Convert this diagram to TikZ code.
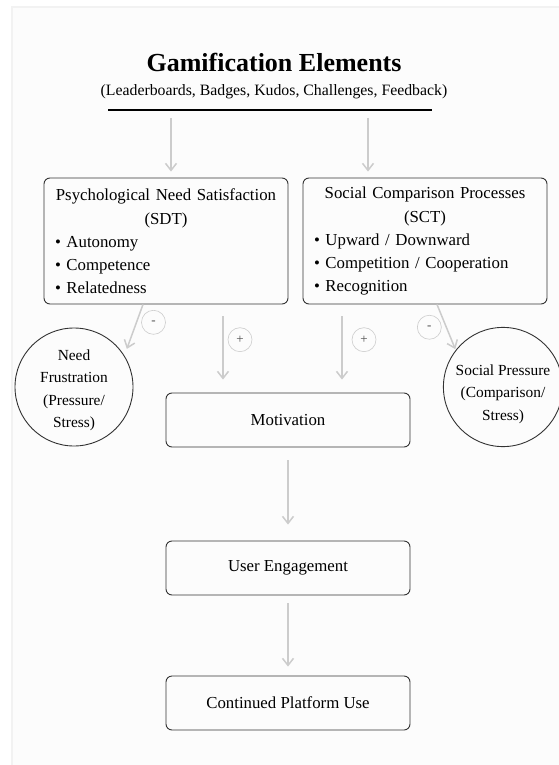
\documentclass[tikz,border=0pt]{standalone}
\usepackage{fontspec}
\setmainfont{Liberation Serif}
\usetikzlibrary{arrows.meta,positioning}

\tikzset{
  box/.style={draw=black!80, rounded corners=6pt, line width=0.9pt, minimum width=244pt, minimum height=54pt, font=\fontsize{16.8}{23}\selectfont},
  theory/.style={box, minimum height=126pt, text width=222pt, inner xsep=11pt, align=left},
  effect/.style={draw=black!80, circle, line width=0.9pt, minimum size=118pt, inner sep=0pt, align=center, font=\fontsize{15.4}{22.5}\selectfont},
  sign/.style={draw=gray!40, circle, line width=0.6pt, minimum size=24pt, inner sep=0pt, outer sep=5pt, font=\fontsize{13}{13}\selectfont, text=black!70},
  flow/.style={color=gray!40, line width=1.5pt, -{Straight Barb[length=7pt,width=11pt]}},
}

\begin{document}
\begin{tikzpicture}[x=1pt,y=-1pt]
	\useasboundingbox (0,0) rectangle (559,765);
	\draw[draw=gray!10, line width=2pt, fill=gray!2] (12,7) rectangle (580,790);

	% title
	\draw (274,62) node[font=\bfseries\fontsize{26}{30}\selectfont] (title) {Gamification Elements};
	\draw (274,92) node[font=\fontsize{15.8}{18}\selectfont] (sub) {(Leaderboards, Badges, Kudos, Challenges, Feedback)};
	\draw[line width=2pt] (108,110) -- (432,110);
	\coordinate (g1) at (171,118);
	\coordinate (g2) at (368,118);

	% theories
	\draw (166,241) node[theory] (sdt) {{\centering Psychological Need Satisfaction\\[1pt](SDT)\par}
		\textbullet~Autonomy\\\textbullet~Competence\\\textbullet~Relatedness\par\vspace{13pt}};
	\draw (425,241) node[theory] (sct) {{\centering Social Comparison Processes\\[1pt](SCT)\par}
		\textbullet~Upward / Downward\\\textbullet~Competition / Cooperation\\\textbullet~Recognition\par\vspace{13pt}};

	% side effects
	\draw (74,387) node[effect] (frus) {\rule{0pt}{17pt}Need\\Frustration\\(Pressure/\\Stress)};
	\draw (503,387) node[effect] (press) {\rule{0pt}{25pt}Social Pressure\\(Comparison/\\Stress)};

	% outcomes
	\draw (288,420) node[box] (mot) {Motivation};
	\draw (288,568) node[box] (eng) {User Engagement};
	\draw (288,703) node[box] (use) {Continued Platform Use};

	\draw[flow, shorten >=7pt] ([xshift=-23pt]sdt.south) -- node[sign, right, pos=0.35] (m1) {-} (frus.32);
	\draw[flow, shorten <=12pt, shorten >=13pt] ([xshift=57pt]sdt.south) -- node[sign, right, pos=0.4] (p1) {+} ([xshift=-65pt]mot.north);
	\draw[flow, shorten <=12pt, shorten >=13pt] ([xshift=-83pt]sct.south) -- node[sign, right, pos=0.4, xshift=5pt] (p2) {+} ([xshift=54pt]mot.north);
	\draw[flow, shorten >=1pt] ([xshift=12pt]sct.south) -- node[sign, left, pos=0.5] (m2) {-} (press.142);

	\path[flow]
		(g1) 	edge	[shorten >=6pt]						(g1 |- sdt.north)
		(g2) 	edge	[shorten >=6pt]						(g2 |- sct.north)
		(mot)	edge	[shorten <=13pt, shorten >=16pt]	(eng)
		(eng)	edge	[shorten <=8pt, shorten >=9pt]		(use)
		;
\end{tikzpicture}
\end{document}
